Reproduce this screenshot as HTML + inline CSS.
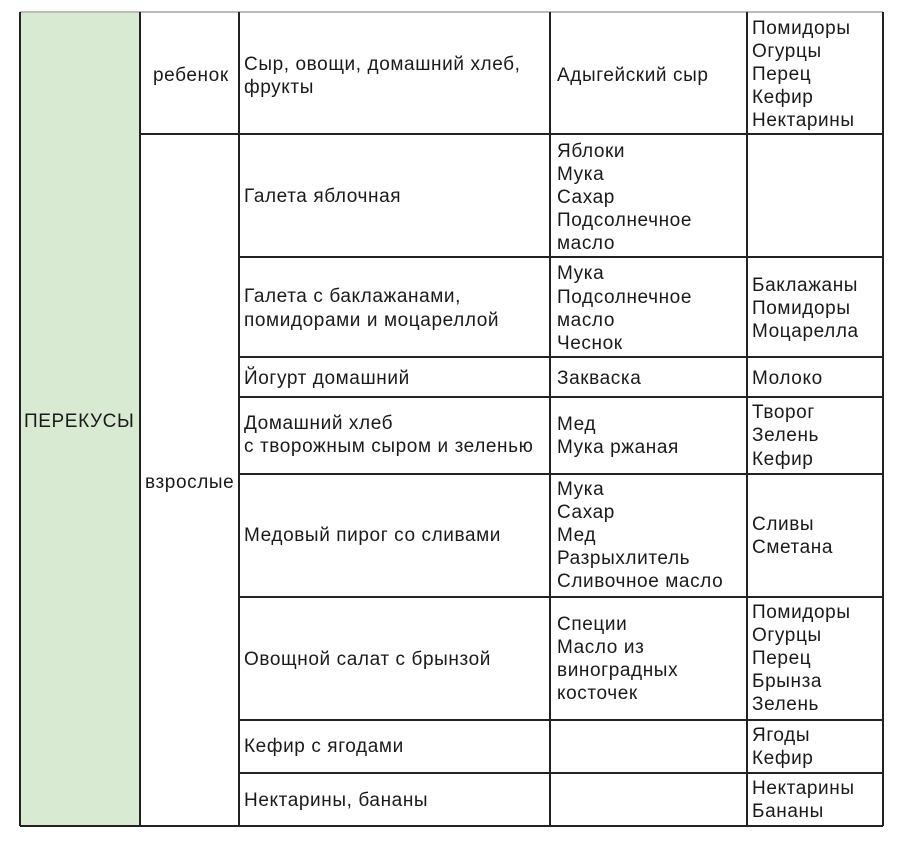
<!DOCTYPE html>
<html><head><meta charset="utf-8"><style>
body{margin:0;background:#fff;}
svg text{font-family:"Liberation Sans","DejaVu Sans",sans-serif;font-size:19px;letter-spacing:0.6px;fill:#1a1a1a;}
</style></head><body>
<svg width="900" height="849" xmlns="http://www.w3.org/2000/svg">
<rect x="20" y="12" width="120" height="814" fill="#d9ead3"/>
<g stroke="#222" stroke-width="2" fill="none">
<line x1="20" y1="12" x2="883" y2="12" stroke="#bbb"/>
<line x1="20" y1="12" x2="20" y2="826"/>
<line x1="140" y1="12" x2="140" y2="826"/>
<line x1="239" y1="12" x2="239" y2="826"/>
<line x1="550" y1="12" x2="550" y2="826"/>
<line x1="747" y1="12" x2="747" y2="826"/>
<line x1="883" y1="12" x2="883" y2="826"/>
<line x1="20" y1="826" x2="883" y2="826"/>
<line x1="140" y1="134" x2="883" y2="134"/>
<line x1="239" y1="257" x2="883" y2="257"/>
<line x1="239" y1="357" x2="883" y2="357"/>
<line x1="239" y1="397" x2="883" y2="397"/>
<line x1="239" y1="474" x2="883" y2="474"/>
<line x1="239" y1="597" x2="883" y2="597"/>
<line x1="239" y1="720" x2="883" y2="720"/>
<line x1="239" y1="773" x2="883" y2="773"/>
</g>
<text x="153" y="81">ребенок</text>
<text x="244" y="70">Сыр, овощи, домашний хлеб,</text>
<text x="244" y="93">фрукты</text>
<text x="557" y="81">Адыгейский сыр</text>
<text x="752" y="34">Помидоры</text><text x="752" y="57">Огурцы</text><text x="752" y="80">Перец</text><text x="752" y="103">Кефир</text><text x="752" y="126">Нектарины</text>
<text x="24" y="427">ПЕРЕКУСЫ</text>
<text x="145" y="488">взрослые</text>
<text x="244" y="202">Галета яблочная</text>
<text x="557" y="157">Яблоки</text><text x="557" y="180">Мука</text><text x="557" y="203">Сахар</text><text x="557" y="226">Подсолнечное</text><text x="557" y="249">масло</text>
<text x="244" y="302">Галета с баклажанами,</text><text x="244" y="326">помидорами и моцареллой</text>
<text x="557" y="279">Мука</text><text x="557" y="303">Подсолнечное</text><text x="557" y="326">масло</text><text x="557" y="349">Чеснок</text>
<text x="752" y="291">Баклажаны</text><text x="752" y="314">Помидоры</text><text x="752" y="337">Моцарелла</text>
<text x="244" y="384">Йогурт домашний</text><text x="557" y="384">Закваска</text><text x="752" y="384">Молоко</text>
<text x="244" y="429">Домашний хлеб</text><text x="244" y="452">с творожным сыром и зеленью</text>
<text x="557" y="430">Мед</text><text x="557" y="453">Мука ржаная</text>
<text x="752" y="418">Творог</text><text x="752" y="441">Зелень</text><text x="752" y="465">Кефир</text>
<text x="244" y="541">Медовый пирог со сливами</text>
<text x="557" y="495">Мука</text><text x="557" y="518">Сахар</text><text x="557" y="541">Мед</text><text x="557" y="564">Разрыхлитель</text><text x="557" y="587">Сливочное масло</text>
<text x="752" y="530">Сливы</text><text x="752" y="553">Сметана</text>
<text x="244" y="665">Овощной салат с брынзой</text>
<text x="557" y="630">Специи</text><text x="557" y="653">Масло из</text><text x="557" y="676">виноградных</text><text x="557" y="699">косточек</text>
<text x="752" y="618">Помидоры</text><text x="752" y="641">Огурцы</text><text x="752" y="664">Перец</text><text x="752" y="687">Брынза</text><text x="752" y="710">Зелень</text>
<text x="244" y="752">Кефир с ягодами</text>
<text x="752" y="741">Ягоды</text><text x="752" y="764">Кефир</text>
<text x="244" y="806">Нектарины, бананы</text>
<text x="752" y="794">Нектарины</text><text x="752" y="817">Бананы</text>
</svg>
</body></html>
